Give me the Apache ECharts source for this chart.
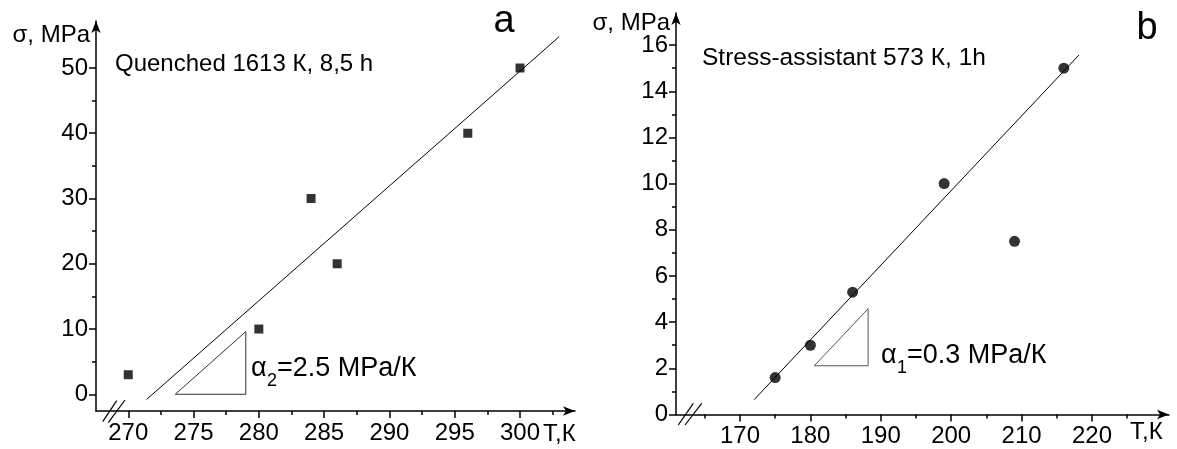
<!DOCTYPE html>
<html>
<head>
<meta charset="utf-8">
<script src="https://cdn.jsdelivr.net/npm/echarts@6/dist/echarts.min.js"></script>
<style>
html, body { margin: 0; padding: 0; background: #fff; }
#chart { width: 1177px; height: 449px; }
</style>
</head>
<body>
<div id="chart"></div>
<script>
// panel a: quenched 1613 K, 8.5 h
var tempA = [270, 280, 284, 286, 296, 300];
var stressA = [3, 10, 30, 20, 40, 50];
var fitA = [[271.4, -0.8], [303, 54.8]];
var triA = [[273.6, 0], [279, 0], [279, 9.6], [273.6, 0]];
var xTicksA = [270, 275, 280, 285, 290, 295, 300];
var xMinorA = [272.5, 277.5, 282.5, 287.5, 292.5, 297.5, 302.5];
var yTicksA = [0, 10, 20, 30, 40, 50];
var yMinorA = [5, 15, 25, 35, 45];

// panel b: stress-assistant 573 K, 1 h
var tempB = [175, 180, 186, 199, 209, 216];
var stressB = [1.6, 3, 5.3, 10, 7.5, 15];
var fitB = [[172, 0.64], [218.15, 15.57]];
var triB = [[180.55, 2.11], [188.2, 2.11], [188.2, 4.58], [180.55, 2.11]];
var xTicksB = [170, 180, 190, 200, 210, 220];
var xMinorB = [165, 175, 185, 195, 205, 215, 225];
var yTicksB = [0, 2, 4, 6, 8, 10, 12, 14, 16];
var yMinorB = [1, 3, 5, 7, 9, 11, 13, 15];

var FONT = 'Liberation Sans, Arial, sans-serif';

function zip(xs, ys) {
	var out = [];
	for (var i = 0; i < xs.length; i++) out.push([xs[i], ys[i]]);
	return out;
}

function mainAxis(grid, pos, min, max, ticks) {
	return {
		type: 'value', gridIndex: grid, position: pos, min: min, max: max,
		axisLine: {
			show: true, onZero: false,
			symbol: ['none', 'arrow'], symbolSize: [7, 12],
			lineStyle: { color: '#000', width: 1.5 }
		},
		axisTick: { show: true, customValues: ticks, length: 7, lineStyle: { color: '#000', width: 1.5 } },
		axisLabel: { customValues: ticks, color: '#000', fontSize: 24, fontFamily: FONT, margin: pos == 'bottom' ? 10 : 8 },
		splitLine: { show: false }
	};
}

function minorAxis(grid, pos, min, max, ticks) {
	return {
		type: 'value', gridIndex: grid, position: pos, min: min, max: max,
		axisLine: { show: false, onZero: false },
		axisTick: { show: true, customValues: ticks, length: 4, lineStyle: { color: '#000', width: 1.5 } },
		axisLabel: { show: false },
		splitLine: { show: false }
	};
}

function lineSeries(x, y, data, color) {
	return {
		type: 'line', xAxisIndex: x, yAxisIndex: y, data: data,
		showSymbol: false, symbol: 'none', silent: true,
		lineStyle: { color: color, width: 1 }
	};
}

function txt(x, y, text, size, align) {
	return {
		type: 'text', x: x, y: y, silent: true,
		style: {
			text: text, fill: '#000', font: size + 'px ' + FONT,
			textAlign: align || 'left', textVerticalAlign: 'middle'
		}
	};
}

function seg(x1, y1, x2, y2) {
	return {
		type: 'line', silent: true,
		shape: { x1: x1, y1: y1, x2: x2, y2: y2 },
		style: { stroke: '#000', lineWidth: 1.2 }
	};
}

var chart = echarts.init(document.getElementById('chart'));

var option = {
	animation: false,
	backgroundColor: '#fff',
	grid: [
		{ left: 96, top: 21, width: 479, height: 390 },
		{ left: 676, top: 13, width: 493, height: 401.5 }
	],
	xAxis: [
		mainAxis(0, 'bottom', 267.53, 304.21, xTicksA),
		minorAxis(0, 'bottom', 267.53, 304.21, xMinorA),
		mainAxis(1, 'bottom', 160.91, 230.94, xTicksB),
		minorAxis(1, 'bottom', 160.91, 230.94, xMinorB)
	],
	yAxis: [
		mainAxis(0, 'left', -2.56, 57.2, yTicksA),
		minorAxis(0, 'left', -2.56, 57.2, yMinorA),
		mainAxis(1, 'left', 0, 17.39, yTicksB),
		minorAxis(1, 'left', 0, 17.39, yMinorB)
	],
	series: [
		lineSeries(0, 0, fitA, '#000'),
		lineSeries(0, 0, triA, '#333'),
		{
			type: 'scatter', xAxisIndex: 0, yAxisIndex: 0,
			data: zip(tempA, stressA),
			symbol: 'rect', symbolSize: 9,
			itemStyle: { color: '#000' }
		},
		lineSeries(2, 2, fitB, '#000'),
		lineSeries(2, 2, triB, '#555'),
		{
			type: 'scatter', xAxisIndex: 2, yAxisIndex: 2,
			data: zip(tempB, stressB),
			symbol: 'circle', symbolSize: 11,
			itemStyle: { color: '#000' }
		}
	],
	graphic: [
		// panel a texts
		txt(90, 35, 'σ, MPa', 24, 'right'),
		txt(115, 64, 'Quenched 1613 К, 8,5 h', 24),
		txt(504, 22, 'a', 38, 'center'),
		txt(543, 434, 'T,К', 24),
		txt(251, 369, 'α', 27),
		txt(267, 381, '2', 18),
		txt(277, 369, '=2.5 MPa/К', 27),
		// panel b texts
		txt(670, 23, 'σ, MPa', 24, 'right'),
		txt(702, 58, 'Stress-assistant 573 К, 1h', 24.5),
		txt(1147, 29, 'b', 38, 'center'),
		txt(1130, 432, 'T,К', 24),
		txt(881, 356, 'α', 27),
		txt(897, 368, '1', 18),
		txt(907, 356, '=0.3 MPa/К', 27),
		// axis break marks
		seg(102.7, 421.7, 116.7, 400.7),
		seg(108.3, 422.7, 125, 400),
		seg(678.3, 425, 693.3, 403.3),
		seg(685, 425, 701.7, 403.3)
	]
};

chart.setOption(option);
</script>
</body>
</html>
